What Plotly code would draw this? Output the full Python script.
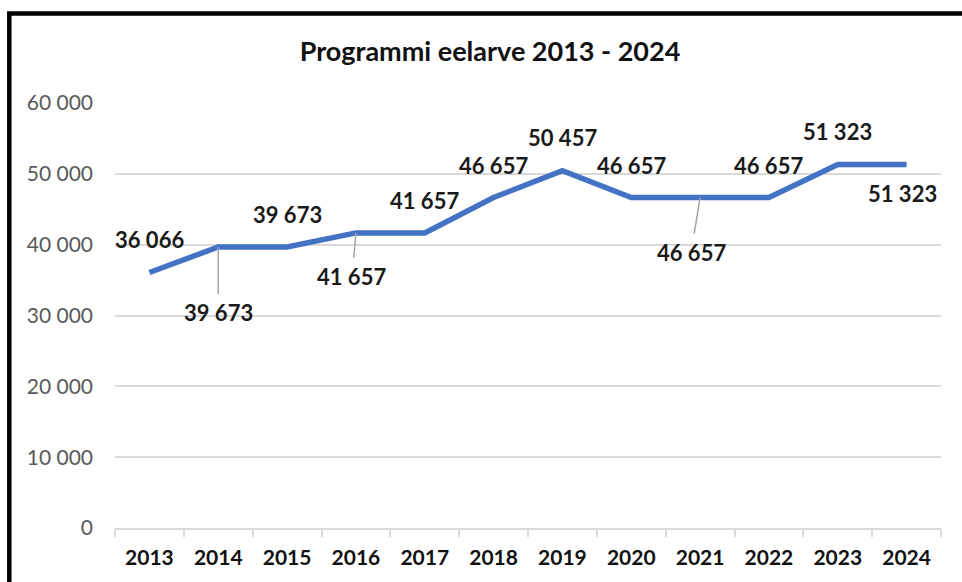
import plotly.graph_objects as go

years = ["2013", "2014", "2015", "2016", "2017", "2018",
         "2019", "2020", "2021", "2022", "2023", "2024"]
values = [36066, 39673, 39673, 41657, 41657, 46657,
          50457, 46657, 46657, 46657, 51323, 51323]
label_texts = ["36 066", "39 673", "39 673", "41 657", "41 657", "46 657",
               "50 457", "46 657", "46 657", "46 657", "51 323", "51 323"]
title_text = "Programmi eelarve 2013 - 2024"

# label placement: (dx, dy in px, leader line?)
placement = [(0, -33, False), (0, 66, True), (0, -32, False), (-4, 44, True),
             (0, -32, False), (0, -32, False), (0, -33, False), (0, -32, False),
             (-9, 55, True), (0, -32, False), (0, -33, False), (-4, 29, False)]

FONT = "Lato"
W, H = 962, 582
ML, MT = 115, 103
MR = W - 941
MB = H - 528

fig = go.Figure()
fig.add_trace(go.Scatter(
    x=years, y=values, mode="lines",
    line=dict(color="#4472C4", width=5.5, shape="linear"),
    hoverinfo="skip", showlegend=False, cliponaxis=False,
))

annotations = []
for i, (v, t, (dx, dy, leader)) in enumerate(zip(values, label_texts, placement)):
    font = dict(family=FONT, size=22, color="#1a1a1a", weight="bold")
    if leader:
        annotations.append(dict(
            x=i, y=v, xref="x", yref="y", text=t, showarrow=True,
            arrowhead=0, arrowwidth=1.5, arrowcolor="#a6a6a6",
            ax=dx, ay=dy, borderpad=5, font=font,
        ))
    else:
        annotations.append(dict(
            x=i, y=v, xref="x", yref="y", text=t, showarrow=False,
            xshift=dx, yshift=-dy, font=font,
        ))

pw = W - ML - MR
ph = H - MT - MB
def px_to_paper_x(px):
    return (px - ML) / pw
def px_to_paper_y(py):
    return (H - MB - py) / ph

lx = px_to_paper_x(9.3)
ty = px_to_paper_y(13.5)
by = px_to_paper_y(600)
rx = px_to_paper_x(975)

fig.update_layout(
    width=W, height=H,
    margin=dict(l=ML, r=MR, t=MT, b=MB, autoexpand=False),
    paper_bgcolor="white", plot_bgcolor="white",
    separators=", ",
    title=dict(text=title_text, x=490 / W, xref="container", xanchor="center",
               y=1 - 52 / H, yref="container", yanchor="middle",
               font=dict(family=FONT, size=27, color="#111111", weight="bold")),
    xaxis=dict(type="category", categoryorder="array", categoryarray=years,
               range=[-0.5, len(years) - 0.5], tickangle=0,
               tickson="boundaries", ticks="outside", ticklen=7,
               tickcolor="#d9d9d9", tickwidth=1.5, showgrid=False, showline=True,
               linecolor="#d9d9d9", linewidth=1.5, zeroline=False,
               tickfont=dict(family=FONT, size=21, color="#111111", weight="bold"),
               ticklabelstandoff=10, fixedrange=True),
    yaxis=dict(range=[0, 60000], dtick=10000, tickformat=",d", showgrid=True,
               gridcolor="#d9d9d9", gridwidth=1.5, zeroline=False, showline=False,
               ticks="", tickfont=dict(family=FONT, size=21, color="#595959"),
               ticklabelstandoff=21, fixedrange=True),
    annotations=annotations,
    shapes=[dict(type="path", xref="paper", yref="paper",
                 path=f"M {lx},{by} L {lx},{ty} L {rx},{ty}",
                 line=dict(color="black", width=4.5))],
)

fig.write_html(
    "out.html",
    config={"displayModeBar": False},
    post_script="document.body.style.margin='0';document.body.style.overflow='hidden';",
)
